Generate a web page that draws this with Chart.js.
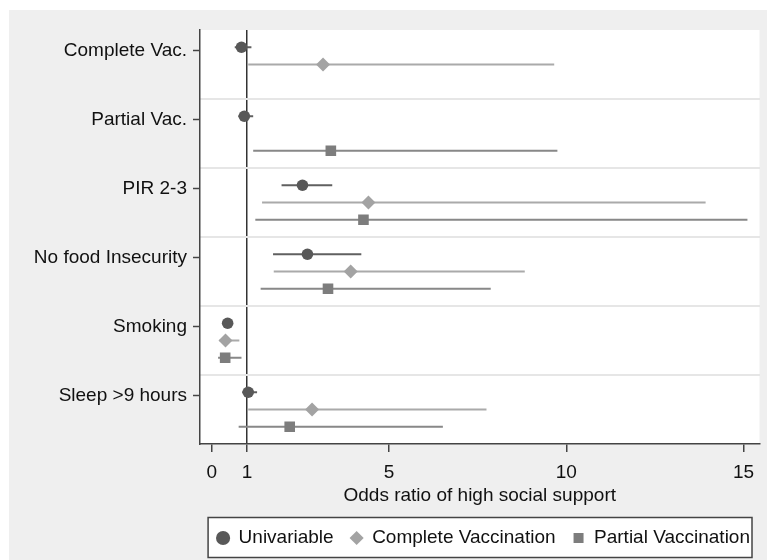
<!DOCTYPE html>
<html>
<head>
<meta charset="utf-8">
<title>Odds ratio of high social support</title>
<script src="https://cdn.jsdelivr.net/npm/chart.js@4"></script>
<style>
  html, body { margin: 0; padding: 0; background: #fff; }
  #wrap { position: absolute; left: 9px; top: 10px; width: 758px; height: 550px; background: #efefef; }
</style>
</head>
<body>
<div id="wrap"><canvas id="forest" width="758" height="550"></canvas></div>
<script>
// categories, top to bottom
const categories = ['Complete Vac.', 'Partial Vac.', 'PIR 2-3', 'No food Insecurity', 'Smoking', 'Sleep >9 hours'];

// odds ratios and 95% CI (null = not estimated)
const uniOR = [0.84, 0.92, 2.56, 2.70, 0.45, 1.03];
const uniLo = [0.65, 0.75, 1.97, 1.73, 0.40, 0.86];
const uniHi = [1.12, 1.17, 3.40, 4.22, 0.50, 1.28];

const compOR = [3.14, null, 4.42, 3.92, 0.39, 2.83];
const compLo = [1.03, null, 1.42, 1.75, 0.22, 1.03];
const compHi = [9.66, null, 13.93, 8.83, 0.78, 7.75];

const partOR = [null, 3.36, 4.28, 3.28, 0.38, 2.20];
const partLo = [null, 1.17, 1.23, 1.38, 0.18, 0.76];
const partHi = [null, 9.75, 15.11, 7.87, 0.84, 6.52];

const xTicks = [0, 1, 5, 10, 15];

// each category gets 4 slots on the y scale, series sit in slots 1..3
const slot = (i, k) => i * 4 + k;

function markerData(vals, k) {
    const out = [];
    vals.forEach((v, i) => { if (v !== null) out.push({ x: v, y: slot(i, k) }); });
    return out;
}

function ciData(lo, hi, k) {
    const out = [];
    lo.forEach((v, i) => {
        if (v === null) return;
        out.push({ x: v, y: slot(i, k) });
        out.push({ x: hi[i], y: slot(i, k) });
        out.push({ x: hi[i], y: null }); // break the line
    });
    return out;
}

const uniColor = '#585858', compColor = '#a3a3a3', partColor = '#7d7d7d';

const datasets = [
    { label: 'Univariable', data: markerData(uniOR, 1), pointStyle: 'circle', pointRadius: 5.8,
      backgroundColor: uniColor, borderColor: uniColor, borderWidth: 0 },
    { label: 'Complete Vaccination', data: markerData(compOR, 2), pointStyle: 'rectRot', pointRadius: 7,
      backgroundColor: compColor, borderColor: compColor, borderWidth: 0 },
    { label: 'Partial Vaccination', data: markerData(partOR, 3), pointStyle: 'rect', pointRadius: 7.5,
      backgroundColor: partColor, borderColor: partColor, borderWidth: 0 },
    { label: 'uni ci', data: ciData(uniLo, uniHi, 1), showLine: true, pointRadius: 0,
      borderColor: '#606060', borderWidth: 2 },
    { label: 'comp ci', data: ciData(compLo, compHi, 2), showLine: true, pointRadius: 0,
      borderColor: '#aaaaaa', borderWidth: 2 },
    { label: 'part ci', data: ciData(partLo, partHi, 3), showLine: true, pointRadius: 0,
      borderColor: '#888888', borderWidth: 2 }
];

// white plot region and a framed legend, like the Stata output
const framePlugin = {
    id: 'frame',
    beforeDraw(chart) {
        const { ctx, chartArea: a, legend } = chart;
        ctx.save();
        ctx.fillStyle = '#ffffff';
        ctx.fillRect(a.left, a.top, a.right - a.left, a.bottom - a.top);
        const hb = legend.legendHitBoxes;
        if (hb && hb.length) {
            const l = Math.min(...hb.map(b => b.left)) - 9;
            const r = Math.max(...hb.map(b => b.left + b.width)) + 2;
            const t = hb[0].top - 11, h = hb[0].height + 21;
            ctx.fillRect(l, t, r - l, h);
            ctx.strokeStyle = '#444444';
            ctx.lineWidth = 1.5;
            ctx.strokeRect(l, t, r - l, h);
        }
        ctx.restore();
    }
};

Chart.defaults.font.family = '"Liberation Sans", Arial, sans-serif';
Chart.defaults.font.size = 19;
Chart.defaults.color = '#111111';

new Chart(document.getElementById('forest'), {
    type: 'scatter',
    data: { datasets: datasets },
    plugins: [framePlugin],
    options: {
        responsive: false,
        animation: false,
        devicePixelRatio: 1,
        layout: { padding: { top: 20, left: 0, right: 0, bottom: 2.5 } },
        scales: {
            x: {
                type: 'linear',
                min: -0.33,
                max: 15.45,
                afterBuildTicks: s => { s.ticks = xTicks.map(v => ({ value: v })); },
                afterFit: s => { s.height = 67.5; },
                ticks: { autoSkip: false, maxRotation: 0, padding: 9, color: '#111111',
                         callback: v => String(v) },
                grid: {
                    drawOnChartArea: true,
                    color: c => (c.tick && c.tick.value === 1) ? '#333333' : 'rgba(0,0,0,0)',
                    lineWidth: 1.5,
                    tickColor: '#444444',
                    tickWidth: 1.5,
                    tickLength: 8
                },
                border: { display: true, color: '#444444', width: 1.5 },
                title: { display: true, text: 'Odds ratio of high social support',
                         color: '#111111', padding: { top: 0, bottom: 4.5 } }
            },
            y: {
                type: 'linear',
                position: 'left',
                reverse: true,
                min: 0,
                max: 24,
                afterBuildTicks: s => { s.ticks = categories.map((c, i) => ({ value: slot(i, 1.2) })); },
                afterFit: s => { s.width = 191; },
                ticks: { autoSkip: false, padding: 6, color: '#111111',
                         callback: (v, i) => categories[i] },
                grid: { drawOnChartArea: false, tickColor: '#444444', tickWidth: 1.5, tickLength: 7 },
                border: { display: true, color: '#444444', width: 1.5 }
            },
            sep: {
                type: 'linear',
                position: 'right',
                reverse: true,
                min: 0,
                max: 24,
                afterBuildTicks: s => { s.ticks = [4, 8, 12, 16, 20].map(v => ({ value: v })); },
                afterFit: s => { s.width = 7; },
                ticks: { display: false },
                grid: { drawTicks: false, color: '#e6e6e6', lineWidth: 2 },
                border: { display: false }
            }
        },
        plugins: {
            tooltip: { enabled: false },
            legend: {
                position: 'bottom',
                align: 'end',
                labels: {
                    usePointStyle: true,
                    boxWidth: 12,
                    boxHeight: 10,
                    padding: 17,
                    color: '#111111',
                    filter: item => item.datasetIndex < 3
                }
            }
        }
    }
});
</script>
</body>
</html>
